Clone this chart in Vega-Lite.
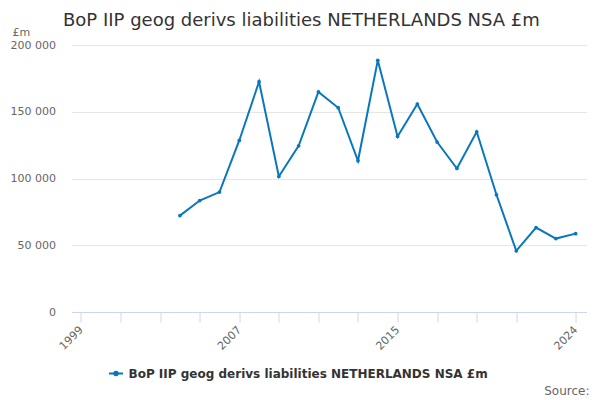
{
  "$schema": "https://vega.github.io/schema/vega-lite/v6.json",
  "width": 515,
  "height": 267,
  "autosize": "none",
  "padding": {"left": 71.5, "top": 45, "right": 13.5, "bottom": 88},
  "config": {
    "font": "DejaVu Sans",
    "view": {"stroke": null}
  },
  "title": {
    "text": "BoP IIP geog derivs liabilities NETHERLANDS NSA £m",
    "anchor": "start",
    "frame": "group",
    "dx": -8.5,
    "offset": -4,
    "fontSize": 18,
    "fontWeight": "normal",
    "color": "#333333"
  },
  "data": {
    "values": [
      {"year": 2004, "value": 72200, "series": "BoP IIP geog derivs liabilities NETHERLANDS NSA £m"},
      {"year": 2005, "value": 83500, "series": "BoP IIP geog derivs liabilities NETHERLANDS NSA £m"},
      {"year": 2006, "value": 89800, "series": "BoP IIP geog derivs liabilities NETHERLANDS NSA £m"},
      {"year": 2007, "value": 128500, "series": "BoP IIP geog derivs liabilities NETHERLANDS NSA £m"},
      {"year": 2008, "value": 172500, "series": "BoP IIP geog derivs liabilities NETHERLANDS NSA £m"},
      {"year": 2009, "value": 101500, "series": "BoP IIP geog derivs liabilities NETHERLANDS NSA £m"},
      {"year": 2010, "value": 124500, "series": "BoP IIP geog derivs liabilities NETHERLANDS NSA £m"},
      {"year": 2011, "value": 164800, "series": "BoP IIP geog derivs liabilities NETHERLANDS NSA £m"},
      {"year": 2012, "value": 153000, "series": "BoP IIP geog derivs liabilities NETHERLANDS NSA £m"},
      {"year": 2013, "value": 113300, "series": "BoP IIP geog derivs liabilities NETHERLANDS NSA £m"},
      {"year": 2014, "value": 188500, "series": "BoP IIP geog derivs liabilities NETHERLANDS NSA £m"},
      {"year": 2015, "value": 131500, "series": "BoP IIP geog derivs liabilities NETHERLANDS NSA £m"},
      {"year": 2016, "value": 155800, "series": "BoP IIP geog derivs liabilities NETHERLANDS NSA £m"},
      {"year": 2017, "value": 127300, "series": "BoP IIP geog derivs liabilities NETHERLANDS NSA £m"},
      {"year": 2018, "value": 107500, "series": "BoP IIP geog derivs liabilities NETHERLANDS NSA £m"},
      {"year": 2019, "value": 135000, "series": "BoP IIP geog derivs liabilities NETHERLANDS NSA £m"},
      {"year": 2020, "value": 87800, "series": "BoP IIP geog derivs liabilities NETHERLANDS NSA £m"},
      {"year": 2021, "value": 45800, "series": "BoP IIP geog derivs liabilities NETHERLANDS NSA £m"},
      {"year": 2022, "value": 63200, "series": "BoP IIP geog derivs liabilities NETHERLANDS NSA £m"},
      {"year": 2023, "value": 55000, "series": "BoP IIP geog derivs liabilities NETHERLANDS NSA £m"},
      {"year": 2024, "value": 58700, "series": "BoP IIP geog derivs liabilities NETHERLANDS NSA £m"}
    ]
  },
  "mark": {
    "type": "line",
    "strokeWidth": 2,
    "point": {"size": 14, "filled": true}
  },
  "encoding": {
    "x": {
      "field": "year",
      "type": "quantitative",
      "scale": {"domain": [1998.52, 2024.55], "nice": false, "zero": false},
      "axis": {
        "values": [1999, 2001, 2003, 2005, 2007, 2009, 2011, 2013, 2015, 2017, 2019, 2021, 2024],
        "labelExpr": "indexof([1999, 2007, 2015, 2024], datum.value) >= 0 ? datum.value : ''",
        "labelAngle": -45,
        "labelAlign": "right",
        "labelBaseline": "middle",
        "labelFontSize": 11,
        "labelColor": "#666666",
        "labelPadding": 6,
        "labelOverlap": false,
        "grid": false,
        "domainColor": "#ccd6eb",
        "tickColor": "#ccd6eb",
        "tickSize": 10,
        "title": "Source:",
        "titleAnchor": "end",
        "titleAlign": "right",
        "titleX": 517.5,
        "titleY": 78,
        "titleBaseline": "middle",
        "titleFontSize": 12,
        "titleFontWeight": "normal",
        "titleColor": "#666666"
      }
    },
    "y": {
      "field": "value",
      "type": "quantitative",
      "scale": {"domain": [0, 200000], "nice": false},
      "axis": {
        "values": [0, 50000, 100000, 150000, 200000],
        "labelExpr": "replace(format(datum.value, ','), ',', ' ')",
        "labelFontSize": 11,
        "labelColor": "#666666",
        "labelPadding": 16,
        "domain": false,
        "ticks": false,
        "gridColor": "#e6e6e6",
        "title": "£m",
        "titleAngle": 0,
        "titleAlign": "left",
        "titleBaseline": "middle",
        "titleX": -59.5,
        "titleY": -13,
        "titleFontSize": 11,
        "titleFontWeight": "normal",
        "titleColor": "#666666"
      }
    },
    "color": {
      "field": "series",
      "type": "nominal",
      "scale": {"range": ["#0a77bd"]},
      "legend": {
        "title": null,
        "orient": "none",
        "legendX": 36,
        "legendY": 320,
        "symbolType": "M-1,0H1M-0.25,0A0.25,0.25 0 1,1 0.25,0A0.25,0.25 0 1,1 -0.25,0",
        "symbolSize": 200,
        "symbolStrokeWidth": 2,
        "labelFontSize": 12,
        "labelFontWeight": "bold",
        "labelColor": "#333333",
        "labelLimit": 500
      }
    }
  }
}
